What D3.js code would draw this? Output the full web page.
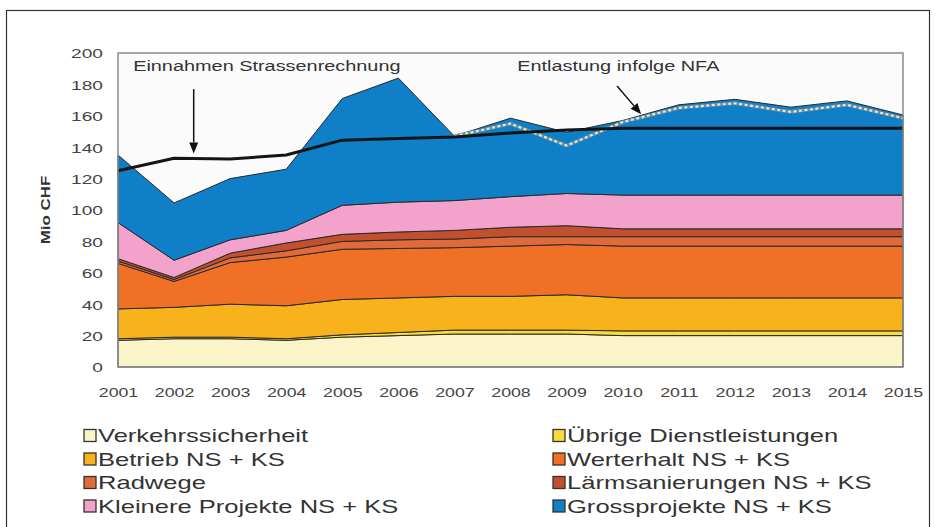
<!DOCTYPE html>
<html>
<head>
<meta charset="utf-8">
<script src="https://cdn.jsdelivr.net/npm/d3@7"></script>
<style>
  body { margin: 0; background: #fff; }
  text { font-family: "Liberation Sans", Arial, sans-serif; }
</style>
</head>
<body>
<div id="chart"></div>
<script>
// size of the page
const width = 935;
const height = 527;

// the text in the original is stretched horizontally
const stretch = 1.42;

// data (Mio CHF)
const years = [2001, 2002, 2003, 2004, 2005, 2006, 2007, 2008, 2009, 2010, 2011, 2012, 2013, 2014, 2015];
const verkehrssicherheit = [17, 18, 18, 17, 19, 20, 21, 21, 21, 20, 20, 20, 20, 20, 20];
const uebrigeDienstleistungen = [1, 1, 1, 1, 1.5, 2, 2.5, 2.5, 2.5, 3, 3, 3, 3, 3, 3];
const betrieb = [19, 19, 21, 21, 22.5, 22, 21.5, 21.5, 22.5, 21, 21, 21, 21, 21, 21];
const werterhalt = [29, 16.5, 26.5, 31, 32, 31.5, 31, 32, 32, 33, 33, 33, 33, 33, 33];
const radwege = [1.5, 1.2, 3, 4, 5, 5.5, 5.5, 6, 5, 6, 6, 6, 6, 6, 6];
const laermsanierungen = [1.5, 1.3, 3, 5, 4.5, 5, 5.5, 6, 7, 5, 5, 5, 5, 5, 5];
const kleinereProjekte = [23, 11, 8.5, 8, 18.5, 19, 19, 19.5, 20.5, 21.5, 21.5, 21.5, 21.5, 21.5, 21.5];
const grossprojekte = [43, 36.5, 39, 39, 68, 79, 41, 50, 39, 47.5, 57.5, 61, 56, 60, 51];

// revenue line and total after NFA relief
const einnahmen = [125, 133, 132.5, 135, 144.5, 145.5, 146.5, 149, 151, 152, 152, 152, 152, 152, 152];
const nfaYears = [2007, 2008, 2009, 2010, 2011, 2012, 2013, 2014, 2015];
const nachNFA = [147, 155, 141, 156, 165, 168, 162.5, 167, 158.5];

const yTicks = [0, 20, 40, 60, 80, 100, 120, 140, 160, 180, 200];

const series = [
  { key: "Verkehrssicherheit", values: verkehrssicherheit, color: "#fcf4c9" },
  { key: "Übrige Dienstleistungen", values: uebrigeDienstleistungen, color: "#f8dc3c" },
  { key: "Betrieb NS + KS", values: betrieb, color: "#f8b31c" },
  { key: "Werterhalt NS + KS", values: werterhalt, color: "#f07026" },
  { key: "Radwege", values: radwege, color: "#e06a3a" },
  { key: "Lärmsanierungen NS + KS", values: laermsanierungen, color: "#c2502e" },
  { key: "Kleinere Projekte NS + KS", values: kleinereProjekte, color: "#f3a2cb" },
  { key: "Grossprojekte NS + KS", values: grossprojekte, color: "#0f7fc7" }
];

// table for d3.stack
const table = years.map((yr, i) => {
  const row = { year: yr };
  series.forEach(s => { row[s.key] = s.values[i]; });
  return row;
});

const svg = d3.select("#chart")
  .append("svg")
  .attr("width", width)
  .attr("height", height);

// outer frame
svg.append("rect")
  .attr("x", 6.5).attr("y", 10.5)
  .attr("width", 923).attr("height", 540)
  .attr("fill", "#fff")
  .attr("stroke", "#333")
  .attr("stroke-width", 1.2);

const x = d3.scaleLinear().domain([2001, 2015]).range([118, 903]);
const y = d3.scaleLinear().domain([0, 200]).range([367, 53]);

// plot background
svg.append("rect")
  .attr("x", x(2001)).attr("y", y(200))
  .attr("width", x(2015) - x(2001)).attr("height", y(0) - y(200))
  .attr("fill", "#fbfbfb");

const stack = d3.stack().keys(series.map(s => s.key));
const layers = stack(table);

const area = d3.area()
  .x(d => x(d.data.year))
  .y0(d => y(d[0]))
  .y1(d => y(d[1]));

svg.append("g")
  .selectAll("path")
  .data(layers)
  .enter()
  .append("path")
  .attr("d", area)
  .attr("fill", (d, i) => series[i].color)
  .attr("stroke", "#2a2a2a")
  .attr("stroke-width", 1)
  .attr("stroke-linejoin", "round");

// NFA dotted line
const nfaLine = d3.line()
  .x((d, i) => x(nfaYears[i]))
  .y(d => y(d));

svg.append("path")
  .attr("d", nfaLine(nachNFA))
  .attr("fill", "none")
  .attr("stroke", "#5a8cb8")
  .attr("stroke-width", 3.5);

svg.append("path")
  .attr("d", nfaLine(nachNFA))
  .attr("fill", "none")
  .attr("stroke", "#f4e6b0")
  .attr("stroke-width", 2.2)
  .attr("stroke-dasharray", "3,2.5");

// revenue line
const revLine = d3.line()
  .x((d, i) => x(years[i]))
  .y(d => y(d));

svg.append("path")
  .attr("d", revLine(einnahmen))
  .attr("fill", "none")
  .attr("stroke", "#151515")
  .attr("stroke-width", 3)
  .attr("stroke-linejoin", "round");

// plot frame
svg.append("rect")
  .attr("x", x(2001)).attr("y", y(200))
  .attr("width", x(2015) - x(2001)).attr("height", y(0) - y(200))
  .attr("fill", "none")
  .attr("stroke", "#8a8a8a")
  .attr("stroke-width", 1.5);

// axes
const yAxis = svg.append("g")
  .attr("transform", `translate(${x(2001)},0)`)
  .call(d3.axisLeft(y).tickValues(yTicks).tickSize(0).tickFormat(d3.format("d")));
yAxis.select(".domain").remove();
yAxis.selectAll("text")
  .attr("x", -15 / stretch)
  .attr("dy", "0.36em")
  .attr("transform", `scale(${stretch},1)`)
  .style("font-size", "13.5px")
  .style("fill", "#444");

const xAxis = svg.append("g")
  .attr("transform", `translate(0,${y(0)})`)
  .call(d3.axisBottom(x).tickValues(years).tickSize(0).tickFormat(d3.format("d")));
xAxis.select(".domain").remove();
xAxis.selectAll("text")
  .attr("x", 0)
  .attr("y", 26)
  .attr("dy", "0.36em")
  .attr("transform", `scale(${stretch},1)`)
  .style("font-size", "12.5px")
  .style("fill", "#444");

svg.append("text")
  .attr("transform", `translate(50,${(y(0) + y(200)) / 2}) rotate(-90) scale(1.3,1)`)
  .attr("text-anchor", "middle")
  .style("font-size", "13px")
  .style("font-weight", "bold")
  .style("fill", "#333")
  .text("Mio CHF");

// annotations
function arrow(x1, y1, x2, y2) {
  const ang = Math.atan2(y2 - y1, x2 - x1);
  const len = 11, half = 4.5;
  const bx = x2 - len * Math.cos(ang), by = y2 - len * Math.sin(ang);
  svg.append("line")
    .attr("x1", x1).attr("y1", y1).attr("x2", bx).attr("y2", by)
    .attr("stroke", "#111").attr("stroke-width", 1.5);
  svg.append("path")
    .attr("d", `M${x2},${y2}L${bx + half * Math.sin(ang)},${by - half * Math.cos(ang)}L${bx - half * Math.sin(ang)},${by + half * Math.cos(ang)}Z`)
    .attr("fill", "#111");
}

function label(tx, ty, txt) {
  svg.append("text")
    .attr("transform", `translate(${tx},${ty}) scale(${stretch},1)`)
    .style("font-size", "14px")
    .style("fill", "#333")
    .text(txt);
}

label(x(2001.27), y(188.3), "Einnahmen Strassenrechnung");
arrow(x(2002.35), y(177), x(2002.35), y(136));

label(x(2008.12), y(188.3), "Entlastung infolge NFA");
arrow(x(2009.9), y(179), x(2010.33), y(161));

// legend
const legend = svg.append("g");
const legendItems = legend.selectAll("g")
  .data(series)
  .enter()
  .append("g")
  .attr("transform", (d, i) => `translate(${i % 2 === 0 ? 84 : 553},${436 + Math.floor(i / 2) * 23.5})`);

legendItems.append("rect")
  .attr("x", 0).attr("y", -6.5)
  .attr("width", 12).attr("height", 12)
  .attr("fill", d => d.color)
  .attr("stroke", "#333")
  .attr("stroke-width", 1.3);

legendItems.append("text")
  .attr("transform", `translate(14,0) scale(${stretch},1)`)
  .attr("dy", "0.36em")
  .style("font-size", "18px")
  .style("fill", "#333")
  .text(d => d.key);
</script>
</body>
</html>
